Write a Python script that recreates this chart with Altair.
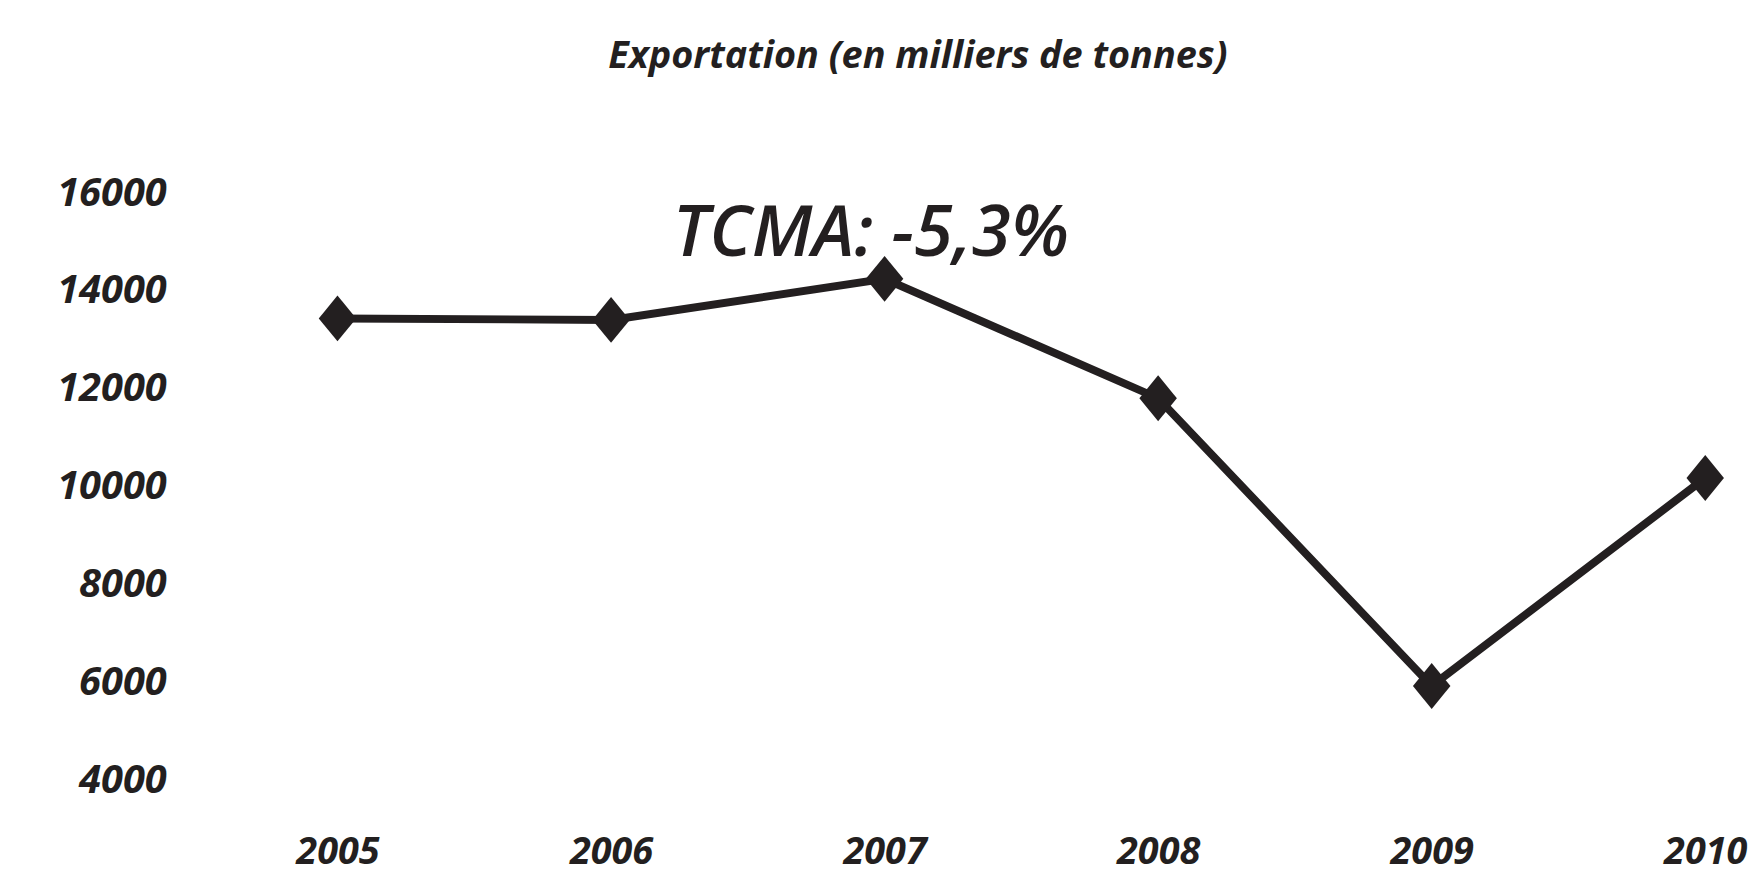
import altair as alt
import pandas as pd

# Data
years = [2005, 2006, 2007, 2008, 2009, 2010]
exports = [13440, 13410, 14250, 11810, 5930, 10180]
y_ticks = [4000, 6000, 8000, 10000, 12000, 14000, 16000]
title_text = "Exportation (en milliers de tonnes)"
ann_text = ["TCMA: -5,3%"]
ann_x = [2006.95]
ann_y = [15150]

INK = "#231f20"
FONT = "Open Sans"

df = pd.DataFrame({"year": years, "value": exports})
ann = pd.DataFrame({"x": ann_x, "y": ann_y, "t": ann_text})

xscale = alt.Scale(domain=[2005, 2010], nice=False, zero=False)
yscale = alt.Scale(domain=[4000, 16000], nice=False, zero=False)

xaxis = alt.Axis(values=years, format="d", title=None, grid=False, domain=False, ticks=False,
                 labelFont=FONT, labelFontSize=38, labelFontStyle="italic", labelFontWeight="bold",
                 labelColor=INK, labelPadding=53, labelFlush=False, labelOverlap=False, labelAngle=0)
yaxis = alt.Axis(values=y_ticks, format="d", title=None, grid=False, domain=False, ticks=False,
                 labelFont=FONT, labelFontSize=40, labelFontStyle="italic", labelFontWeight="bold",
                 labelColor=INK, labelPadding=172, labelOverlap=False)

base = alt.Chart(df).encode(
    x=alt.X("year:Q", scale=xscale, axis=xaxis),
    y=alt.Y("value:Q", scale=yscale, axis=yaxis),
)

line = base.mark_line(color=INK, strokeWidth=8)
pts = base.mark_point(shape="M0,-1.1L0.9,0L0,1.1L-0.9,0Z", size=1750, filled=True,
                      color=INK, opacity=1)

label = alt.Chart(ann).mark_text(font=FONT, fontSize=71, fontStyle="italic", fontWeight=600,
                                 color=INK, align="center", baseline="middle").encode(
    x=alt.X("x:Q", scale=xscale), y=alt.Y("y:Q", scale=yscale), text="t:N")

chart = alt.layer(line, pts, label).properties(
    width=1374, height=590,
    padding={"left": 331, "top": 184, "right": 51, "bottom": 100},
    autosize="none",
    background="white",
    title=alt.TitleParams(title_text, font=FONT, fontSize=38, fontStyle="italic", fontWeight="bold",
                          color=INK, anchor="middle", dx=-104, offset=98),
).configure_view(strokeWidth=0, stroke="transparent")

chart.save("out.html", embed_options={"renderer": "svg", "actions": False})
